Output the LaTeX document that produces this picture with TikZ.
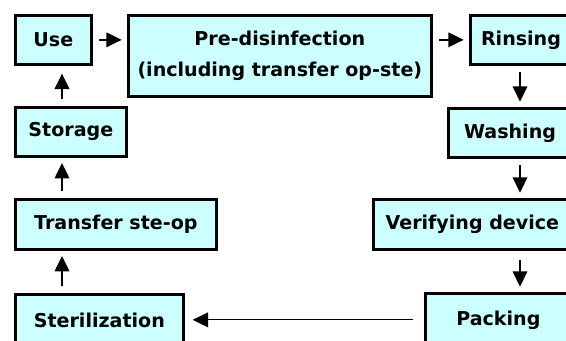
\documentclass[tikz,border=0pt]{standalone}
\usepackage{fontspec}
\setmainfont{DejaVu Sans}
\usetikzlibrary{arrows.meta, positioning}
\definecolor{boxcyan}{RGB}{204,255,255}

\begin{document}
\begin{tikzpicture}[x=0.75pt, y=-0.75pt,
box/.style = {% process steps
    draw, line width=2pt, fill=boxcyan, anchor=north west,
    inner sep=0pt, align=center,
    font=\bfseries\fontsize{14.3}{23.5}\selectfont,
            },
flow/.style = {% connectors
    -{Triangle[length=11.5pt,width=11pt]}, line width=1.1pt,
    shorten <=5pt, shorten >=4pt,
            },
                        ]
% frame
\useasboundingbox (0,0) rectangle (566,340);
\clip (0,0) rectangle (566,340);
% left column
\node[box, minimum width=57pt,     minimum height=36.75pt] (use)      at (14,14)  {Use};
\node[box, minimum width=83.25pt,  minimum height=36.75pt] (storage)  at (14,106) {Storage};
\node[box, minimum width=150.75pt, minimum height=37.5pt]  (transfer) at (14,198) {Transfer ste-op};
\node[box, minimum width=126pt,    minimum height=39pt]    (steril)   at (14,293) {Sterilization};
% top row
\node[box, minimum width=227.25pt, minimum height=60.75pt] (predis)   at (127,14) {Pre-disinfection\\(including transfer op-ste)};
% right column
\node[box, minimum width=76pt,     minimum height=36.75pt] (rinse)    at (469,14) {Rinsing};
\node[box, minimum width=92.5pt,   minimum height=36.75pt] (wash)     at (447,107) {Washing};
\node[box, minimum width=148.5pt,  minimum height=37.5pt]  (verify)   at (372,198) {Verifying device};
\node[box, minimum width=109.5pt,  minimum height=39.75pt] (pack)     at (424,292) {Packing};
% lanes of the vertical arrows
\coordinate (lx) at (62,0);
\coordinate (rx) at (520,0);
% arrows
\draw[flow] (use.east) -- (predis.west |- use.east);
\draw[flow] (predis.east |- rinse.west) -- (rinse.west);
\draw[flow] (rx |- rinse.south) -- (rx |- wash.north);
\draw[flow] (rx |- wash.south) -- (rx |- verify.north);
\draw[flow, shorten <=7pt] (rx |- verify.south) -- (rx |- pack.north);
\draw[flow, line width=0.8pt, shorten <=8pt, shorten >=6pt] (pack.west) -- (steril.east |- pack.west);
\draw[flow] (lx |- steril.north) -- (lx |- transfer.south);
\draw[flow] (lx |- transfer.north) -- (lx |- storage.south);
\draw[flow, shorten >=6pt] (lx |- storage.north) -- (lx |- use.south);
\end{tikzpicture}
\end{document}
